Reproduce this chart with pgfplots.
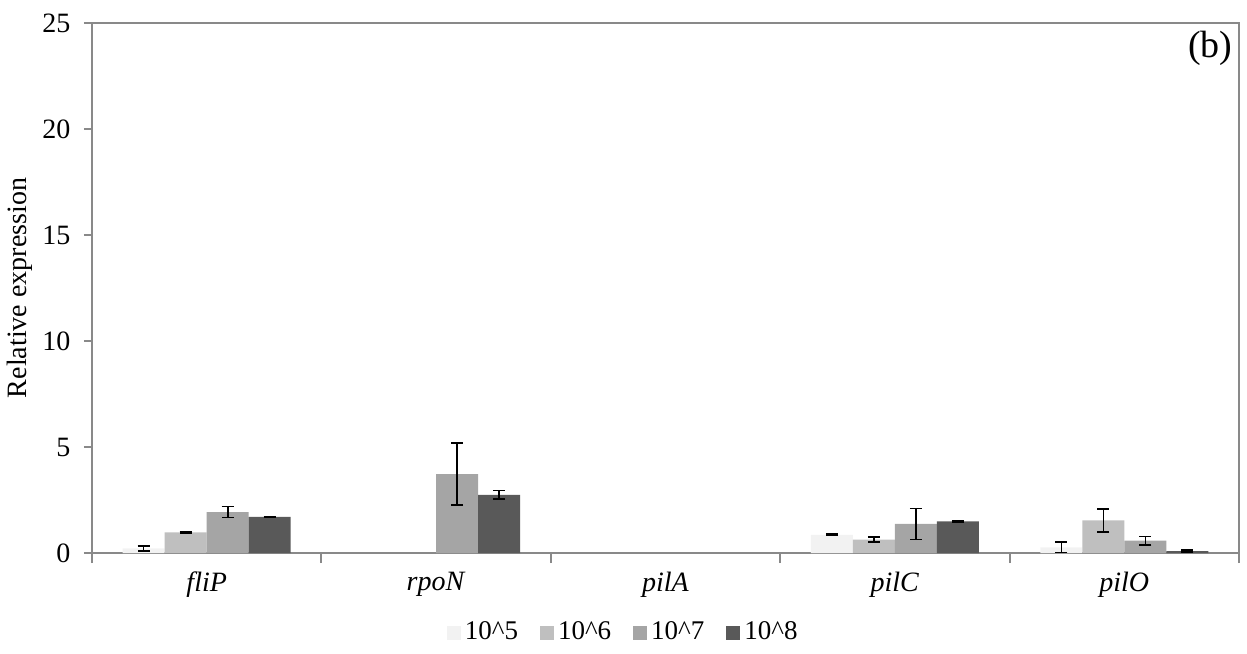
\documentclass[border=0pt]{standalone}
\usepackage{fontspec}
\setmainfont{Liberation Serif}
\usepackage{pgfplots}
\pgfplotsset{compat=1.18}
\definecolor{cA}{HTML}{F2F2F2}
\definecolor{cB}{HTML}{BFBFBF}
\definecolor{cC}{HTML}{A5A5A5}
\definecolor{cD}{HTML}{595959}
\definecolor{axgray}{HTML}{898989}
\begin{document}
\fontsize{14}{17}\selectfont
\begin{tikzpicture}
\useasboundingbox (0,0) rectangle (623.5pt,326.5pt);
\begin{axis}[
  at={(46pt,50pt)}, anchor=south west,
  scale only axis, width=573.5pt, height=265pt,
  ymin=0, ymax=25, ytick={0,5,...,25},
  xmin=-0.5, xmax=4.5,
  xtick={0,1,2,3,4},
  xticklabels={\textit{fliP},\textit{rpoN},\textit{pilA},\textit{pilC},\textit{pilO}},
  major x tick style={draw=none},
  minor xtick={-0.5,0.5,1.5,2.5,3.5,4.5},
  minor x tick style={axgray, line width=1pt},
  minor tick length=5pt,
  ytick style={axgray, line width=1pt},
  major tick length=4pt,
  tick align=outside,
  xtick pos=bottom, ytick pos=left,
  axis line style={axgray, line width=1pt},
  /pgf/number format/assume math mode=true,
  tick label style={font=\fontsize{14}{17}\selectfont},
  yticklabel style={xshift=-2pt},
  xticklabel style={yshift=-0.5pt},
  ylabel={Relative expression},
  ylabel style={at={(axis description cs:-0.0628,0.5)}, anchor=center, rotate=0, font=\fontsize{14}{17}\selectfont},
  ybar=0pt, bar width=21pt,
  legend style={at={(0.464,-0.151)}, anchor=center, draw=none, fill=none,
    legend columns=4, font=\fontsize{13.5}{16}\selectfont,
    /tikz/every even column/.append style={column sep=9pt}},
  legend image code/.code={\fill[#1] (0pt,-3.5pt) rectangle (7pt,3.5pt);},
  error bars/error bar style={black, line width=0.8pt},
  error bars/error mark options={black, rotate=90, mark size=3pt, line width=0.8pt},
]
\addplot[fill=cA, draw=none, error bars/.cd, y dir=both, y explicit] coordinates {
  (0,0.22) +- (0,0.12) (3,0.86) +- (0,0.03) (4,0.27) +- (0,0.25)};
\addplot[fill=cB, draw=none, error bars/.cd, y dir=both, y explicit] coordinates {
  (0,0.97) +- (0,0.03) (3,0.63) +- (0,0.12) (4,1.54) +- (0,0.54)};
\addplot[fill=cC, draw=none, error bars/.cd, y dir=both, y explicit] coordinates {
  (0,1.93) +- (0,0.26) (1,3.72) +- (0,1.46) (3,1.37) +- (0,0.73) (4,0.58) +- (0,0.20)};
\addplot[fill=cD, draw=none, error bars/.cd, y dir=both, y explicit] coordinates {
  (0,1.70) +- (0,0.03) (1,2.74) +- (0,0.20) (3,1.49) +- (0,0.03) (4,0.09) +- (0,0.04)};
\legend{10\textasciicircum 5,10\textasciicircum 6,10\textasciicircum 7,10\textasciicircum 8}
\node[font=\fontsize{19}{22}\selectfont] at (rel axis cs:0.975,0.953) {(b)};
\end{axis}
\end{tikzpicture}
\end{document}
